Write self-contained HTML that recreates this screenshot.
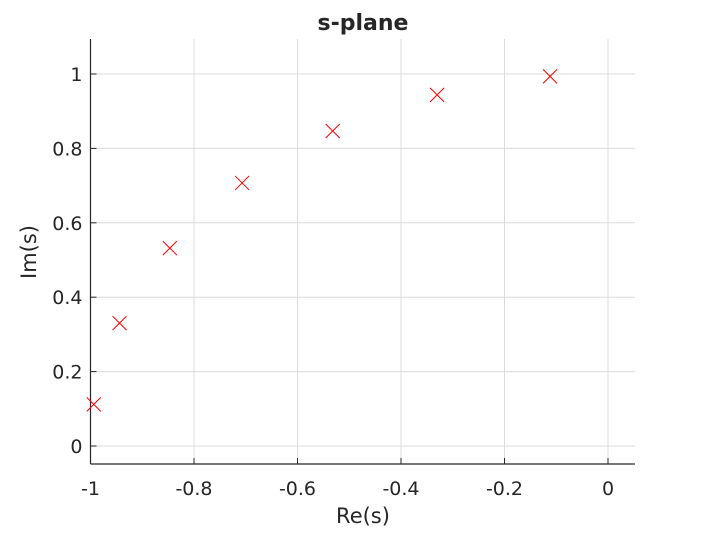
<!DOCTYPE html>
<html><head><style>
body{margin:0;background:#fff;}
text{font-family:"DejaVu Sans","Liberation Sans",sans-serif;fill:#262626;}
</style></head><body>
<svg id="chart" width="703" height="529" xmlns="http://www.w3.org/2000/svg">
<rect width="703" height="529" fill="#fff"/>
<g id="grid"></g><g id="axes"></g><g id="marks"></g>
<text x="363" y="30" text-anchor="middle" font-size="22" font-weight="bold" fill="#000">s-plane</text>
<text x="363" y="523" text-anchor="middle" font-size="21">Re(s)</text>
<text transform="translate(36,252) rotate(-90)" text-anchor="middle" font-size="21">Im(s)</text>
</svg>
<script>
const re = [-0.9937, -0.9439, -0.8467, -0.7071, -0.5320, -0.3303, -0.1120];
const im = [0.1120, 0.3303, 0.5320, 0.7071, 0.8467, 0.9439, 0.9937];
const xTicks = [-1, -0.8, -0.6, -0.4, -0.2, 0];
const xTickLabels = ["-1", "-0.8", "-0.6", "-0.4", "-0.2", "0"];
const yTicks = [0, 0.2, 0.4, 0.6, 0.8, 1];
const yTickLabels = ["0", "0.2", "0.4", "0.6", "0.8", "1"];
const L=90.5,R=635,T=39,B=464;
function sx(v){return 90.5+(v+1)*517.5;}
function sy(v){return 446-v*372;}
const NS="http://www.w3.org/2000/svg";
function mk(t,a,p){const e=document.createElementNS(NS,t);for(const k in a)e.setAttribute(k,a[k]);p.appendChild(e);return e;}
const g=document.getElementById('grid'),ax=document.getElementById('axes'),m=document.getElementById('marks');
xTicks.forEach((v,i)=>{const x=sx(v);
 const l=mk('line',{x1:x,x2:x,y1:T,y2:B,stroke:'#dcdcdc','stroke-width':1},g);
 
 
 mk('line',{x1:x,x2:x,y1:B,y2:B-6,stroke:'#262626'},ax);
 const t=mk('text',{x:x,y:B+31,'text-anchor':'middle','font-size':19},ax);t.textContent=xTickLabels[i];
 
 
});
yTicks.forEach((v,i)=>{const y=sy(v);
 const l=mk('line',{x1:L,x2:R,y1:y,y2:y,stroke:'#dcdcdc','stroke-width':1},g);
 
 
 mk('line',{x1:L,x2:L+6,y1:y,y2:y,stroke:'#262626'},ax);
 const t=mk('text',{x:L-8,y:y+7,'text-anchor':'end','font-size':19},ax);t.textContent=yTickLabels[i];
 
 
});
mk('line',{x1:L,x2:L,y1:T,y2:B,stroke:'#262626','stroke-width':1.2},ax);
mk('line',{x1:L,x2:R,y1:B,y2:B,stroke:'#262626','stroke-width':1.2},ax);
re.forEach((v,i)=>{const x=sx(v),y=sy(im[i]),s=7;
 const p=mk('path',{d:`M${x-s},${y-s}L${x+s},${y+s}M${x-s},${y+s}L${x+s},${y-s}`,stroke:'#ff0000','stroke-width':1,fill:'none'},m);
 
 
});
</script>
</body></html>
